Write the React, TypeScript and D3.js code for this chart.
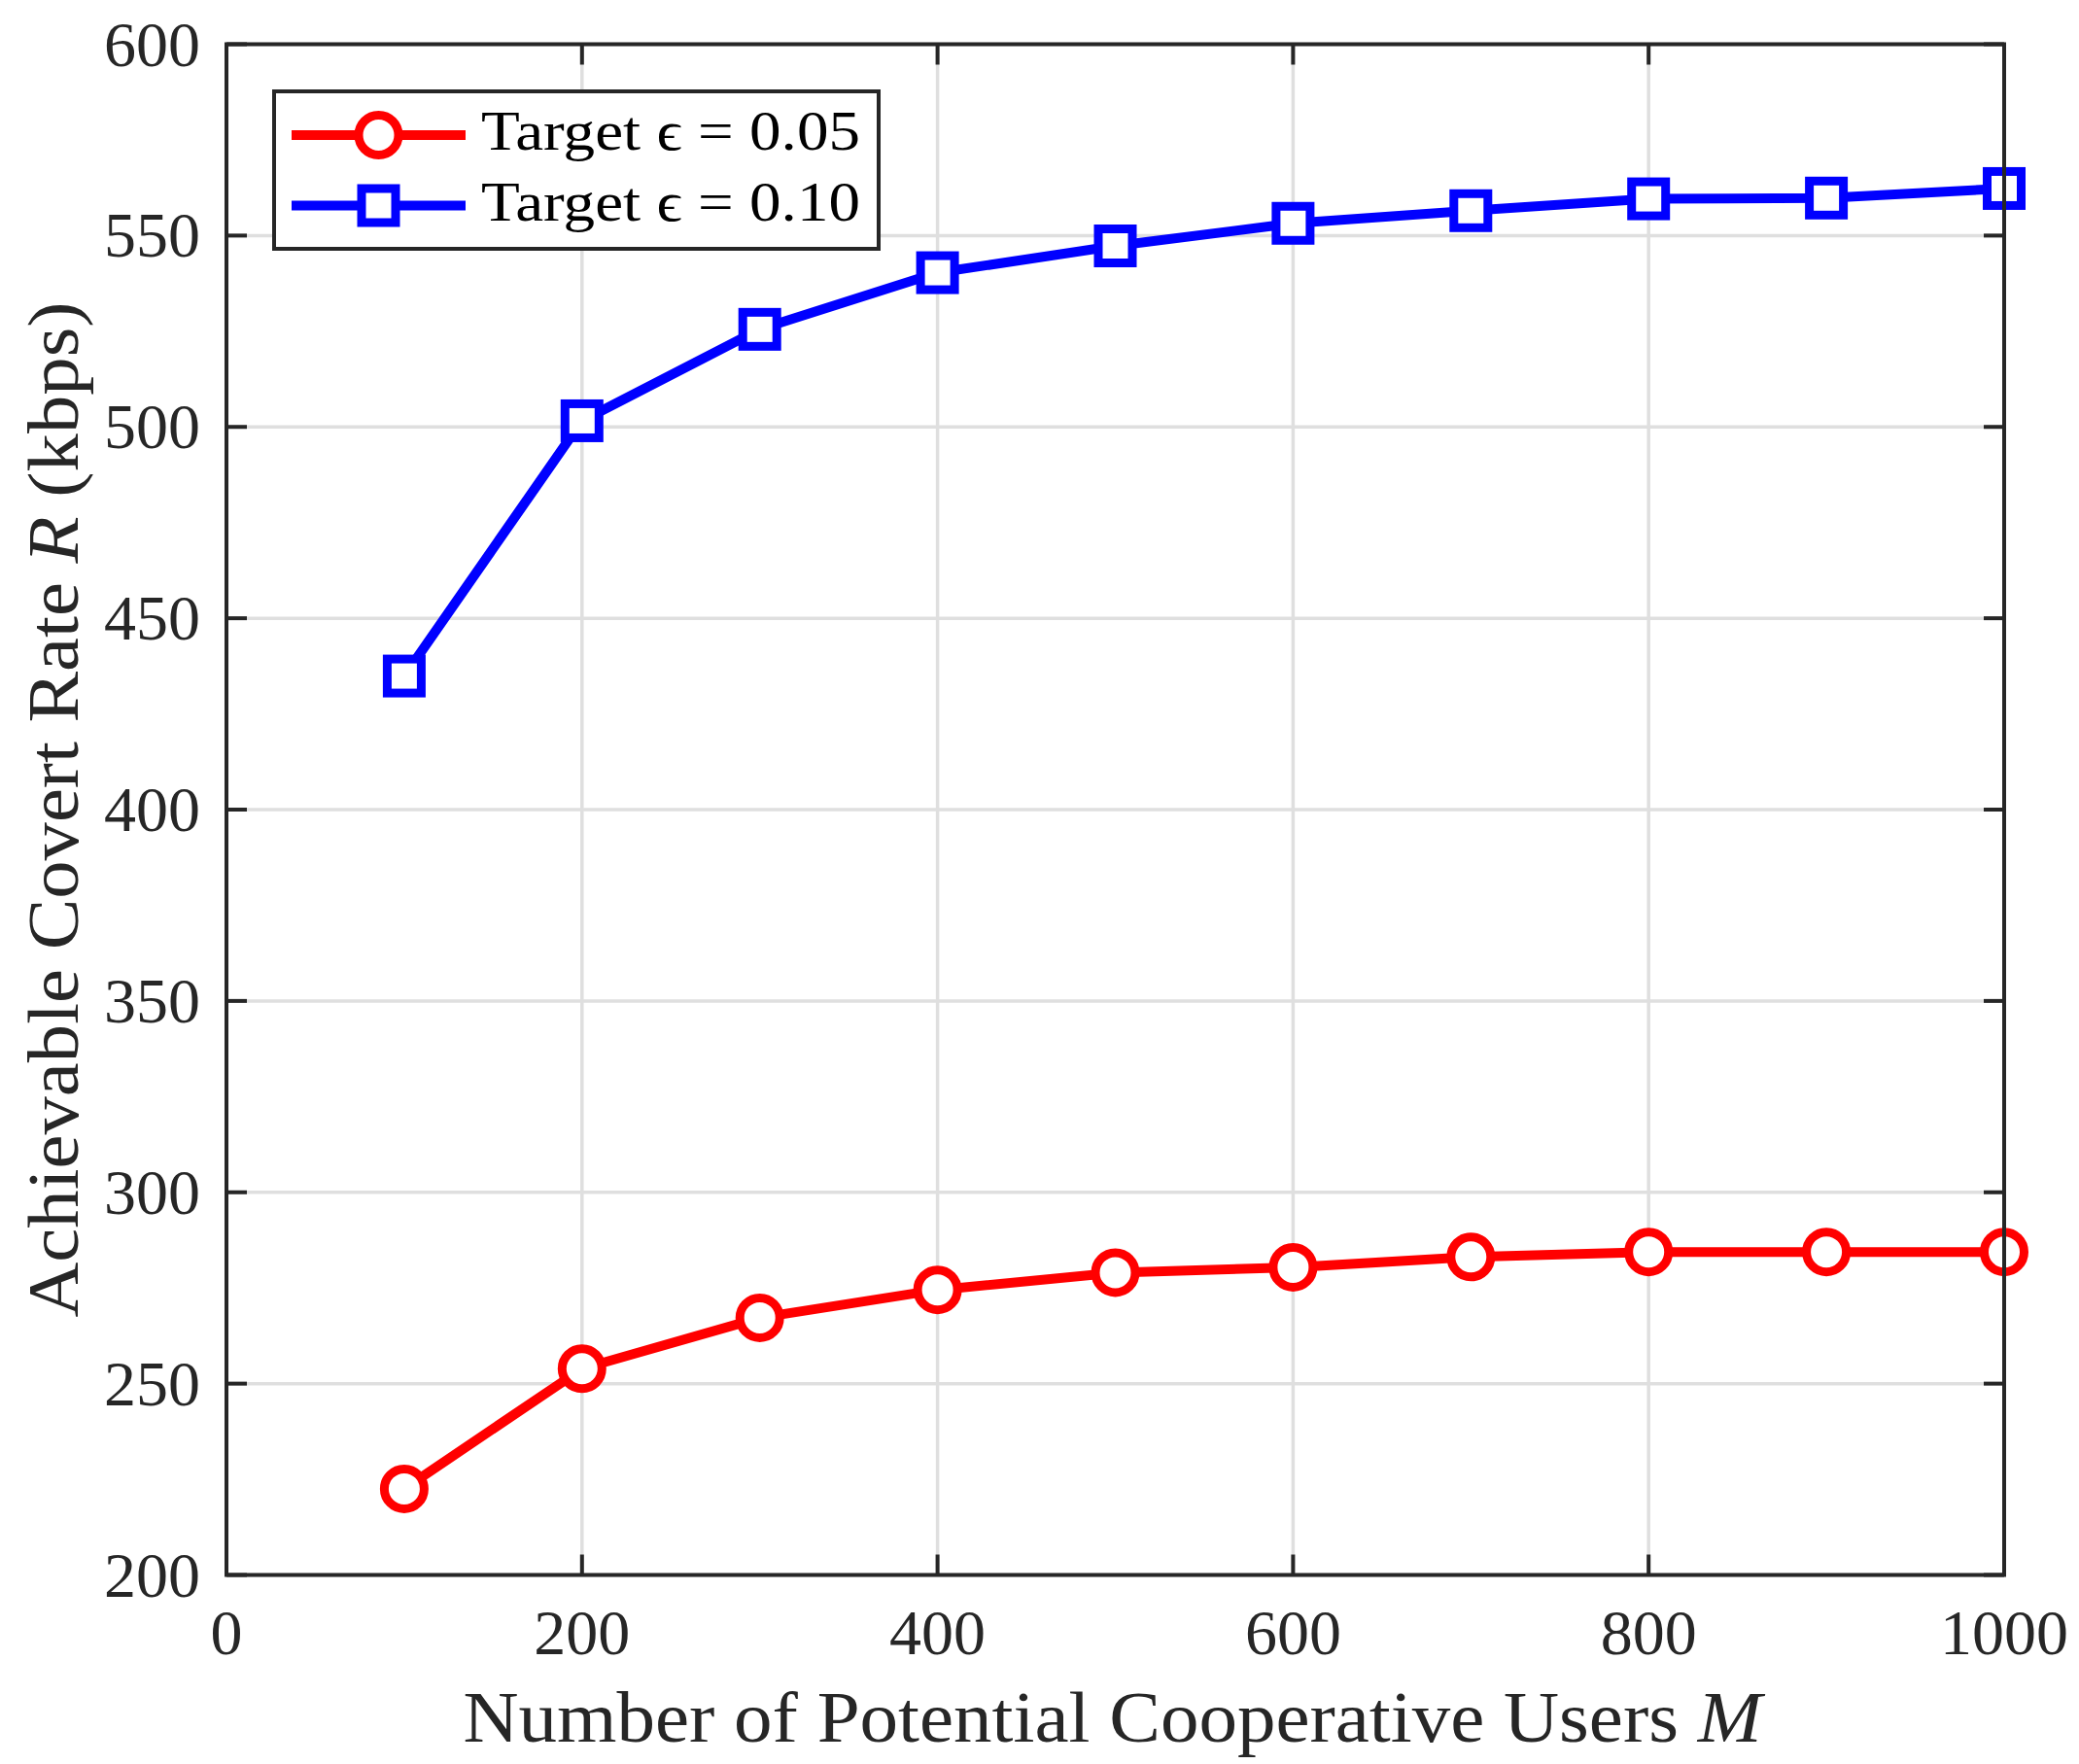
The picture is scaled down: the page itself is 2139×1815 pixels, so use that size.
import React from "react";
import * as d3 from "d3";

const users = [100, 200, 300, 400, 500, 600, 700, 800, 900, 1000];
const rateEps005 = [222.5, 253.9, 267.2, 274.5, 279.0, 280.4, 283.1, 284.4, 284.4, 284.4];
const rateEps010 = [434.9, 501.6, 525.5, 540.3, 547.3, 553.2, 556.5, 559.6, 559.8, 562.3];
const xTicks = [0, 200, 400, 600, 800, 1000];
const yTicks = [200, 250, 300, 350, 400, 450, 500, 550, 600];
const legendLabels = ["Target \u03F5 = 0.05", "Target \u03F5 = 0.10"];

const W = 2139;
const H = 1815;
const M = { left: 233, right: 2062, top: 45.5, bottom: 1620.5 };
const FONT = "'Liberation Serif', 'DejaVu Serif', serif";
const AXC = "#262626";

export default function App() {
  const x = d3.scaleLinear().domain([0, 1000]).range([M.left, M.right]);
  const y = d3.scaleLinear().domain([200, 600]).range([M.bottom, M.top]);
  const line = d3
    .line<number>()
    .x((_, i) => x(users[i]))
    .y((d) => y(d));

  const tickLen = 21;
  const lw = 10;
  const mw = 9;
  const circR = 20.5;
  const sq = 35;

  const series = [
    { data: rateEps005, color: "#ff0000", marker: "circle" },
    { data: rateEps010, color: "#0000ff", marker: "square" },
  ];

  const drawMarker = (kind: string, cx: number, cy: number, color: string, key: string) =>
    kind === "circle" ? (
      <circle key={key} cx={cx} cy={cy} r={circR} fill="#fff" stroke={color} strokeWidth={mw} />
    ) : (
      <rect key={key} x={cx - sq / 2} y={cy - sq / 2} width={sq} height={sq} fill="#fff" stroke={color} strokeWidth={mw} />
    );

  const leg = { x0: 282, y0: 94, x1: 904, y1: 256 };
  const legRows = [139, 211.5];

  return (
    <svg
      width={W}
      height={H}
      viewBox={`0 0 ${W} ${H}`}
      style={{ position: "absolute", left: 0, top: 0, background: "#fff" }}
    >
      <rect x={0} y={0} width={W} height={H} fill="#fff" />
      {/* grid */}
      {xTicks.map((t) => (
        <line key={"gx" + t} x1={x(t)} x2={x(t)} y1={M.top} y2={M.bottom} stroke="#dfdfdf" strokeWidth={3.5} />
      ))}
      {yTicks.map((t) => (
        <line key={"gy" + t} x1={M.left} x2={M.right} y1={y(t)} y2={y(t)} stroke="#dfdfdf" strokeWidth={3.5} />
      ))}
      {/* ticks */}
      {xTicks.map((t) => (
        <g key={"tx" + t}>
          <line x1={x(t)} x2={x(t)} y1={M.bottom} y2={M.bottom - tickLen} stroke={AXC} strokeWidth={4} />
          <line x1={x(t)} x2={x(t)} y1={M.top} y2={M.top + tickLen} stroke={AXC} strokeWidth={4} />
          <text x={x(t)} y={1702} textAnchor="middle" fontFamily={FONT} fontSize={66} fill={AXC}>
            {t}
          </text>
        </g>
      ))}
      {yTicks.map((t) => (
        <g key={"ty" + t}>
          <line x1={M.left} x2={M.left + tickLen} y1={y(t)} y2={y(t)} stroke={AXC} strokeWidth={4} />
          <line x1={M.right} x2={M.right - tickLen} y1={y(t)} y2={y(t)} stroke={AXC} strokeWidth={4} />
          <text x={206} y={y(t) + 22} textAnchor="end" fontFamily={FONT} fontSize={66} fill={AXC}>
            {t}
          </text>
        </g>
      ))}
      {/* series */}
      {series.map((s, si) => (
        <g key={"s" + si}>
          <path d={line(s.data) || ""} fill="none" stroke={s.color} strokeWidth={lw} strokeLinejoin="round" />
          {s.data.map((v, i) => drawMarker(s.marker, x(users[i]), y(v), s.color, `m${si}-${i}`))}
        </g>
      ))}
      {/* axes box */}
      <rect
        x={M.left}
        y={M.top}
        width={M.right - M.left}
        height={M.bottom - M.top}
        fill="none"
        stroke={AXC}
        strokeWidth={4}
      />
      {/* legend */}
      <rect
        x={leg.x0}
        y={leg.y0}
        width={leg.x1 - leg.x0}
        height={leg.y1 - leg.y0}
        fill="#fff"
        stroke={AXC}
        strokeWidth={4}
      />
      {series.map((s, si) => (
        <g key={"lg" + si}>
          <line x1={300} x2={479} y1={legRows[si]} y2={legRows[si]} stroke={s.color} strokeWidth={lw} />
          {drawMarker(s.marker, 389.5, legRows[si], s.color, "lm" + si)}
          <text
            x={495}
            y={legRows[si] + 15}
            fontFamily={FONT}
            fontSize={58}
            fill="#000"
            textLength={390}
            lengthAdjust="spacingAndGlyphs"
          >
            {legendLabels[si]}
          </text>
        </g>
      ))}
      {/* axis labels */}
      <text
        x={(M.left + M.right) / 2 - 3}
        y={1792}
        textAnchor="middle"
        fontFamily={FONT}
        fontSize={75}
        fill={AXC}
        textLength={1336}
        lengthAdjust="spacingAndGlyphs"
      >
        Number of Potential Cooperative Users <tspan fontStyle="italic">M</tspan>
      </text>
      <text
        transform={`translate(80, ${(M.top + M.bottom) / 2}) rotate(-90)`}
        textAnchor="middle"
        fontFamily={FONT}
        fontSize={75}
        fill={AXC}
        textLength={1045}
        lengthAdjust="spacingAndGlyphs"
      >
        Achievable Covert Rate <tspan fontStyle="italic">R</tspan> (kbps)
      </text>
    </svg>
  );
}
